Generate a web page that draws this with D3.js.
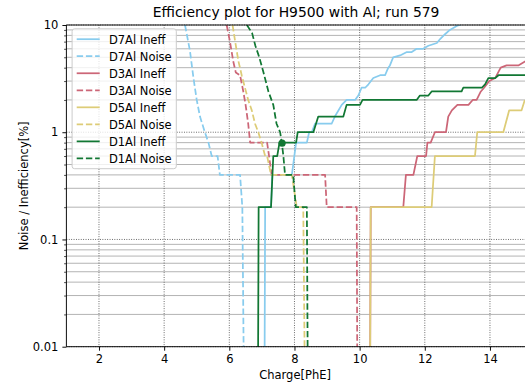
<!DOCTYPE html>
<html>
<head>
<meta charset="utf-8">
<script src="https://cdn.jsdelivr.net/npm/d3@7"></script>
<style>
  html, body { margin: 0; padding: 0; background: #fff; }
  svg { display: block; font-family: "DejaVu Sans", sans-serif; }
</style>
</head>
<body>
<svg id="chart" width="525" height="385"></svg>
<script>
// ---- labels and ticks ----
const titleText = "Efficiency plot for H9500 with Al; run 579";
const xLabelText = "Charge[PhE]";
const yLabelText = "Noise / Inefficiency[%]";
const xTickValues = [2, 4, 6, 8, 10, 12, 14];
const yTickValues = [0.01, 0.1, 1, 10];
const yTickLabels = ["0.01", "0.1", "1", "10"];

// ---- detectors ----
const detectorNames = ["D7Al", "D3Al", "D5Al", "D1Al"];
const detectorColors = ["#88CCEE", "#CC6677", "#DDCC77", "#117733"];

// ---- series: [charge (PhE), percent] ----
const d7Ineff = [[7.08,0],[7.10,0.2],[7.28,0.2],[7.32,0.4],[7.92,0.4],[8.05,0.8],[8.38,0.8],[8.45,1.0],[8.53,1.0],[8.63,1.2],[9.14,1.2],[9.24,1.4],[9.45,1.8],[9.60,2.0],[9.86,2.0],[9.96,2.2],[10.06,2.6],[10.17,2.6],[10.27,2.8],[10.42,3.2],[10.63,3.4],[10.78,3.4],[10.88,4.0],[10.93,4.2],[11.03,5.0],[11.24,5.2],[11.45,5.6],[11.60,5.6],[11.75,6.0],[11.95,6.0],[12.11,6.4],[12.37,6.8],[12.47,7.4],[12.62,8.2],[12.77,9.0],[12.98,9.8],[13.13,10.2]];
const d7Noise = [[4.64,10],[4.79,5.8],[4.90,3.2],[5.00,2.0],[5.10,1.4],[5.25,1.0],[5.36,0.8],[5.46,0.6],[5.64,0.6],[5.71,0.4],[6.33,0.4],[6.40,0.2],[6.45,0]];
const d3Ineff = [[10.32,0],[10.34,0.2],[11.34,0.2],[11.42,0.4],[11.65,0.4],[11.77,0.6],[12.04,0.6],[12.08,0.8],[12.18,0.8],[12.31,1.0],[12.65,1.0],[12.72,1.4],[12.83,1.6],[13.00,1.8],[13.34,1.8],[13.47,2.0],[13.59,2.0],[13.72,2.4],[13.82,2.6],[13.98,3.0],[14.16,3.2],[14.33,4.0],[14.51,4.2],[14.87,4.2],[15.1,4.6]];
const d3Noise = [[5.92,10],[6.02,7.0],[6.12,4.6],[6.20,3.6],[6.33,3.4],[6.43,2.4],[6.50,1.8],[6.58,1.2],[6.64,0.8],[7.16,0.8],[7.22,0.6],[7.30,0.4],[8.94,0.4],[8.99,0.2],[9.91,0.2],[9.93,0]];
const d5Ineff = [[10.32,0],[10.34,0.2],[12.21,0.2],[12.31,0.6],[13.54,0.6],[13.61,1.0],[14.41,1.0],[14.59,1.6],[14.97,1.6],[15.07,2.0]];
const d5Noise = [[6.10,10],[6.18,7.0],[6.28,4.6],[6.38,3.4],[6.48,2.6],[6.58,2.0],[6.69,1.6],[6.79,1.2],[6.89,1.0],[6.99,0.8],[7.10,0.6],[7.16,0.6],[7.28,0.4],[7.92,0.4],[8.07,0.2],[8.27,0.2],[8.32,0]];
const d1Ineff = [[6.88,0],[6.90,0.2],[7.28,0.2],[7.35,0.6],[7.47,0.6],[7.54,0.8],[8.05,0.8],[8.10,1.0],[8.58,1.0],[8.73,1.4],[9.50,1.4],[9.60,1.8],[10.01,1.8],[10.09,2.0],[11.75,2.0],[11.85,2.2],[12.11,2.2],[12.21,2.4],[13.13,2.4],[13.18,2.6],[13.75,2.6],[13.85,2.8],[13.95,3.2],[14.16,3.2],[14.26,3.4],[15.1,3.4]];
const d1Noise = [[6.54,10],[6.70,8.4],[6.80,6.4],[6.92,5.0],[7.05,3.6],[7.20,2.4],[7.35,1.8],[7.45,1.2],[7.56,1.0],[7.61,0.8],[7.66,0.6],[7.71,0.4],[7.96,0.4],[8.04,0.2],[8.38,0.2],[8.41,0]];

// working point where D1Al noise and inefficiency cross
const d1Crossing = [7.62, 0.79];

// draw order and legend order
const seriesList = [
  { label: "D7Al Ineff", data: d7Ineff, det: 0, dashed: false },
  { label: "D7Al Noise", data: d7Noise, det: 0, dashed: true },
  { label: "D3Al Ineff", data: d3Ineff, det: 1, dashed: false },
  { label: "D3Al Noise", data: d3Noise, det: 1, dashed: true },
  { label: "D5Al Ineff", data: d5Ineff, det: 2, dashed: false },
  { label: "D5Al Noise", data: d5Noise, det: 2, dashed: true },
  { label: "D1Al Ineff", data: d1Ineff, det: 3, dashed: false },
  { label: "D1Al Noise", data: d1Noise, det: 3, dashed: true }
];

// ---- layout ----
const plot = { left: 66.4, right: 525.8, top: 25, bottom: 346.7 };
const lineWidth = 1.75;
const dashPattern = "6.4,2.8";
const tickFont = 11.5;

const x = d3.scaleLinear().domain([1, 15.1]).range([plot.left, plot.right]);
const y = d3.scaleLog().domain([0.01, 10]).range([plot.bottom, plot.top]);

const svg = d3.select("#chart");
svg.append("rect").attr("width", 525).attr("height", 385).attr("fill", "#fff");

svg.append("defs").append("clipPath").attr("id", "plotClip")
  .append("rect")
  .attr("x", plot.left).attr("y", plot.top)
  .attr("width", plot.right - plot.left).attr("height", plot.bottom - plot.top);

// ---- grid ----
const minorValues = [];
for (let e = -2; e < 1; e++) for (let k = 2; k < 10; k++) minorValues.push(+(k * Math.pow(10, e)).toPrecision(3));

const grid = svg.append("g");
grid.selectAll("line.minor").data(minorValues).join("line")
  .attr("class", "minor")
  .attr("x1", plot.left).attr("x2", plot.right)
  .attr("y1", d => y(d)).attr("y2", d => y(d))
  .attr("stroke", "#b0b0b0").attr("stroke-width", 0.95);
grid.selectAll("line.majorY").data(yTickValues).join("line")
  .attr("class", "majorY")
  .attr("x1", plot.left).attr("x2", plot.right)
  .attr("y1", d => y(d)).attr("y2", d => y(d))
  .attr("stroke", "#555").attr("stroke-width", 0.95).attr("stroke-dasharray", "0.9,1.5");
grid.selectAll("line.majorX").data(xTickValues).join("line")
  .attr("class", "majorX")
  .attr("x1", d => x(d)).attr("x2", d => x(d))
  .attr("y1", plot.top).attr("y2", plot.bottom)
  .attr("stroke", "#555").attr("stroke-width", 0.95).attr("stroke-dasharray", "0.9,1.5");

// ---- series lines ----
const lineGen = d3.line()
  .x(d => x(d[0]))
  .y(d => d[1] > 0 ? y(d[1]) : plot.bottom + 40);

const lines = svg.append("g").attr("clip-path", "url(#plotClip)");
seriesList.forEach(s => {
  lines.append("path")
    .datum(s.data)
    .attr("d", lineGen)
    .attr("fill", "none")
    .attr("stroke", detectorColors[s.det])
    .attr("stroke-width", lineWidth)
    .attr("stroke-linejoin", "round")
    .attr("stroke-dasharray", s.dashed ? dashPattern : null);
});

lines.append("circle")
  .attr("cx", x(d1Crossing[0])).attr("cy", y(d1Crossing[1]))
  .attr("r", 3.6)
  .attr("fill", detectorColors[3]);

// ---- axes ----
function styleAxis(g) {
  g.select(".domain").remove();
  g.attr("font-family", "DejaVu Sans").attr("font-size", tickFont);
  g.selectAll("line").attr("stroke", "#000").attr("stroke-width", 0.95);
  g.selectAll("text").attr("fill", "#000");
}

svg.append("g")
  .attr("transform", `translate(0,${plot.bottom})`)
  .call(d3.axisBottom(x).tickValues(xTickValues).tickFormat(d3.format("d")).tickSize(4).tickPadding(4))
  .call(styleAxis);

svg.append("g")
  .attr("transform", `translate(${plot.left},0)`)
  .call(d3.axisLeft(y).tickValues(yTickValues).tickFormat((d, i) => yTickLabels[i]).tickSize(4).tickPadding(4))
  .call(styleAxis);

svg.append("g")
  .attr("transform", `translate(${plot.left},0)`)
  .call(d3.axisLeft(y).tickValues(minorValues).tickFormat("").tickSize(2.3))
  .call(styleAxis)
  .selectAll("line").attr("stroke-width", 0.7);

// spines
const spines = svg.append("g").attr("stroke", "#000").attr("stroke-width", 0.95);
spines.append("line").attr("x1", plot.left).attr("x2", plot.left).attr("y1", plot.top).attr("y2", plot.bottom);
spines.append("line").attr("x1", plot.left).attr("x2", plot.right).attr("y1", plot.bottom).attr("y2", plot.bottom);
spines.append("line").attr("x1", plot.left).attr("x2", plot.right).attr("y1", plot.top).attr("y2", plot.top);

// ---- titles ----
const centerX = (plot.left + plot.right) / 2;
svg.append("text")
  .attr("x", centerX).attr("y", 16.5)
  .attr("text-anchor", "middle")
  .attr("font-size", 13.9)
  .text(titleText);

svg.append("text")
  .attr("x", centerX - 1).attr("y", 378.5)
  .attr("text-anchor", "middle")
  .attr("font-size", tickFont)
  .text(xLabelText);

svg.append("text")
  .attr("transform", `translate(28.3,${(plot.top + plot.bottom) / 2}) rotate(-90)`)
  .attr("text-anchor", "middle")
  .attr("font-size", tickFont)
  .text(yLabelText);

// ---- legend ----
const legend = { left: 72.1, top: 28.8, pad: 4.6, handle: 23, gap: 9.2, rowStep: 17.03, firstRow: 39.2 };
const legendG = svg.append("g");
const legendBox = legendG.append("rect")
  .attr("x", legend.left).attr("y", legend.top)
  .attr("rx", 2.5).attr("ry", 2.5)
  .attr("fill", "#fff").attr("fill-opacity", 0.8)
  .attr("stroke", "#cccccc").attr("stroke-width", 1);

let maxTextWidth = 0;
seriesList.forEach((s, i) => {
  const cy = legend.firstRow + i * legend.rowStep;
  const hx = legend.left + legend.pad;
  legendG.append("line")
    .attr("x1", hx).attr("x2", hx + legend.handle)
    .attr("y1", cy).attr("y2", cy)
    .attr("stroke", detectorColors[s.det])
    .attr("stroke-width", lineWidth)
    .attr("stroke-dasharray", s.dashed ? dashPattern : null);
  const t = legendG.append("text")
    .attr("x", hx + legend.handle + legend.gap)
    .attr("y", cy + 4.4)
    .attr("font-size", tickFont)
    .text(s.label);
  maxTextWidth = Math.max(maxTextWidth, t.node().getComputedTextLength());
});
const lastRow = legend.firstRow + (seriesList.length - 1) * legend.rowStep;
legendBox
  .attr("width", legend.pad + legend.handle + legend.gap + maxTextWidth + legend.pad)
  .attr("height", lastRow + 10.3 - legend.top);
</script>
</body>
</html>
